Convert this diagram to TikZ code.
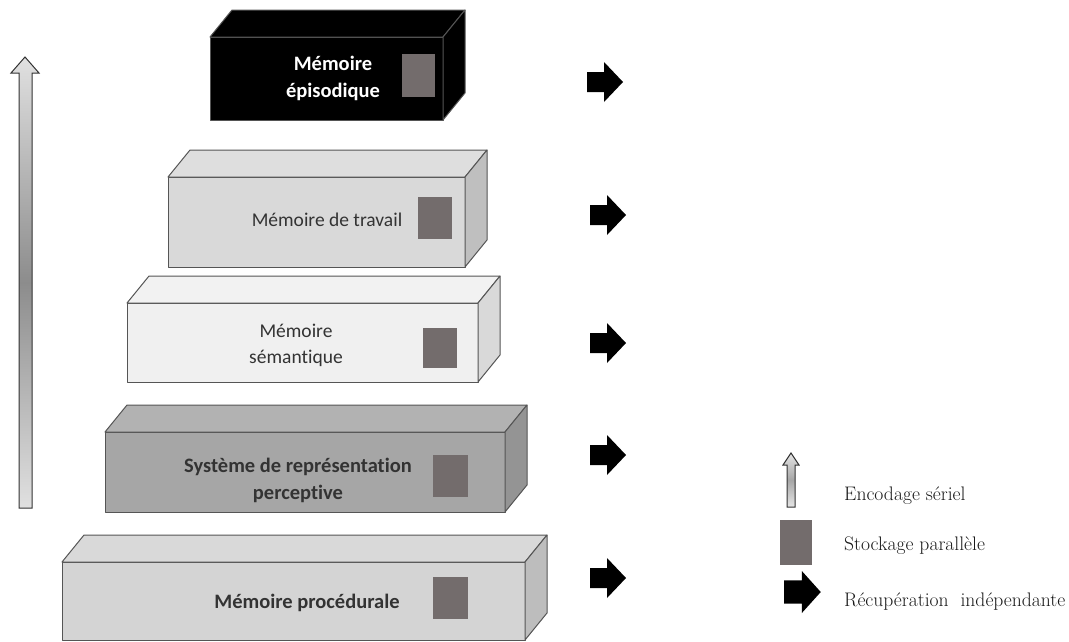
\documentclass[tikz,border=0pt]{standalone}
\usepackage{fontspec}
\setsansfont{Carlito}[Ligatures=NoCommon]
\definecolor{sqcol}{HTML}{736C6C}
\definecolor{edgecol}{HTML}{555555}
\definecolor{txtcol}{HTML}{333333}
\newcommand\memblock[7]{%
  \filldraw[boxedge, fill=#5] (#1,#2) rectangle (#3,#4);
  \filldraw[boxedge, fill=#6] (#1,#2) -- (#1+22,#2-27) -- (#3+22,#2-27) -- (#3,#2) -- cycle;
  \filldraw[boxedge, fill=#7] (#3,#2) -- (#3+22,#2-27) -- (#3+22,#4-27) -- (#3,#4) -- cycle;
}
\tikzset{
  boxedge/.style={draw=edgecol, line width=1pt, line join=round},
  storesq/.style={fill=sqcol, draw=none, inner sep=0pt},
  boxtxt/.style={font=\sffamily\fontsize{19.5}{26}\selectfont, text=txtcol, align=center, inner sep=0pt},
  boldtxt/.style={boxtxt, font=\sffamily\bfseries\fontsize{20.5}{27}\selectfont},
  legtxt/.style={font=\rmfamily\fontsize{19.6}{22}\selectfont, text=black!90, anchor=west, inner sep=0pt},
  rarrow/.pic={\fill[black] (0,-10) -- (17,-10) -- (17,-20) -- (36,0) -- (17,20) -- (17,10) -- (0,10) -- cycle;},
}
\begin{document}
\begin{tikzpicture}[x=1pt,y=-1pt]
\useasboundingbox (0,0) rectangle (1069,641);
% serial encoding arrow
\shade[top color=black!12, bottom color=black!12, middle color=black!45, draw=black!80, line width=1pt]
  (19,508) -- (19,73) -- (11,73) -- (25,57) -- (39,73) -- (32,73) -- (32,508) -- cycle;
% blocks
\memblock{210}{37}{443}{120}{black}{black}{black}
\memblock{168}{177}{465}{267}{black!15}{black!13}{black!25}
\memblock{127}{303}{478}{382}{black!6}{black!5}{black!15}
\memblock{105}{432}{505}{512}{black!35}{black!30}{black!42}
\memblock{62}{562}{525}{640}{black!17}{black!15}{black!26}
% storage squares
\node[storesq, minimum width=33pt, minimum height=43pt] (sq1) at (418.5,75.5) {};
\node[storesq, minimum width=34pt, minimum height=42pt] (sq2) at (435,217.5) {};
\node[storesq, minimum width=34pt, minimum height=40pt] (sq3) at (440,348) {};
\node[storesq, minimum width=35pt, minimum height=42pt] (sq4) at (450.5,476) {};
\node[storesq, minimum width=35pt, minimum height=42pt] (sq5) at (450.5,598) {};
% texts
\node[boldtxt, text=white] (t1) at (333,78) {Mémoire\\épisodique};
\node[boxtxt] (t2) at (327,220) {Mémoire de travail};
\node[boxtxt] (t3) at (296,345) {Mémoire\\sémantique};
\node[boldtxt] (t4) at (298,480) {Système de représentation\\perceptive};
\node[boldtxt] (t5) at (307,603) {Mémoire procédurale};
% retrieval arrows
\pic at (587,82) {rarrow};
\pic at (590,215) {rarrow};
\pic at (590,343) {rarrow};
\pic at (590,455) {rarrow};
\pic at (590,578) {rarrow};
% legend
\shade[top color=black!10, bottom color=black!10, middle color=black!35, draw=black!80, line width=1pt]
  (787,507) -- (787,465) -- (783,465) -- (791,453) -- (799,465) -- (795,465) -- (795,507) -- cycle;
\node[legtxt] (l1) at (844,496) {Encodage sériel};
\node[storesq, minimum width=32pt, minimum height=45pt] (lsq) at (796,542.5) {};
\node[legtxt] (l2) at (844,546) {Stockage parallèle};
\begin{scope}[shift={(784,592)}, scale=1.05]
\fill[black] (0,-11) -- (17,-11) -- (17,-20) -- (35,0) -- (17,20) -- (17,11) -- (0,11) -- cycle;
\end{scope}
\node[legtxt] (l3) at (844,602) {Récupération\ \ indépendante};
\end{tikzpicture}
\end{document}
